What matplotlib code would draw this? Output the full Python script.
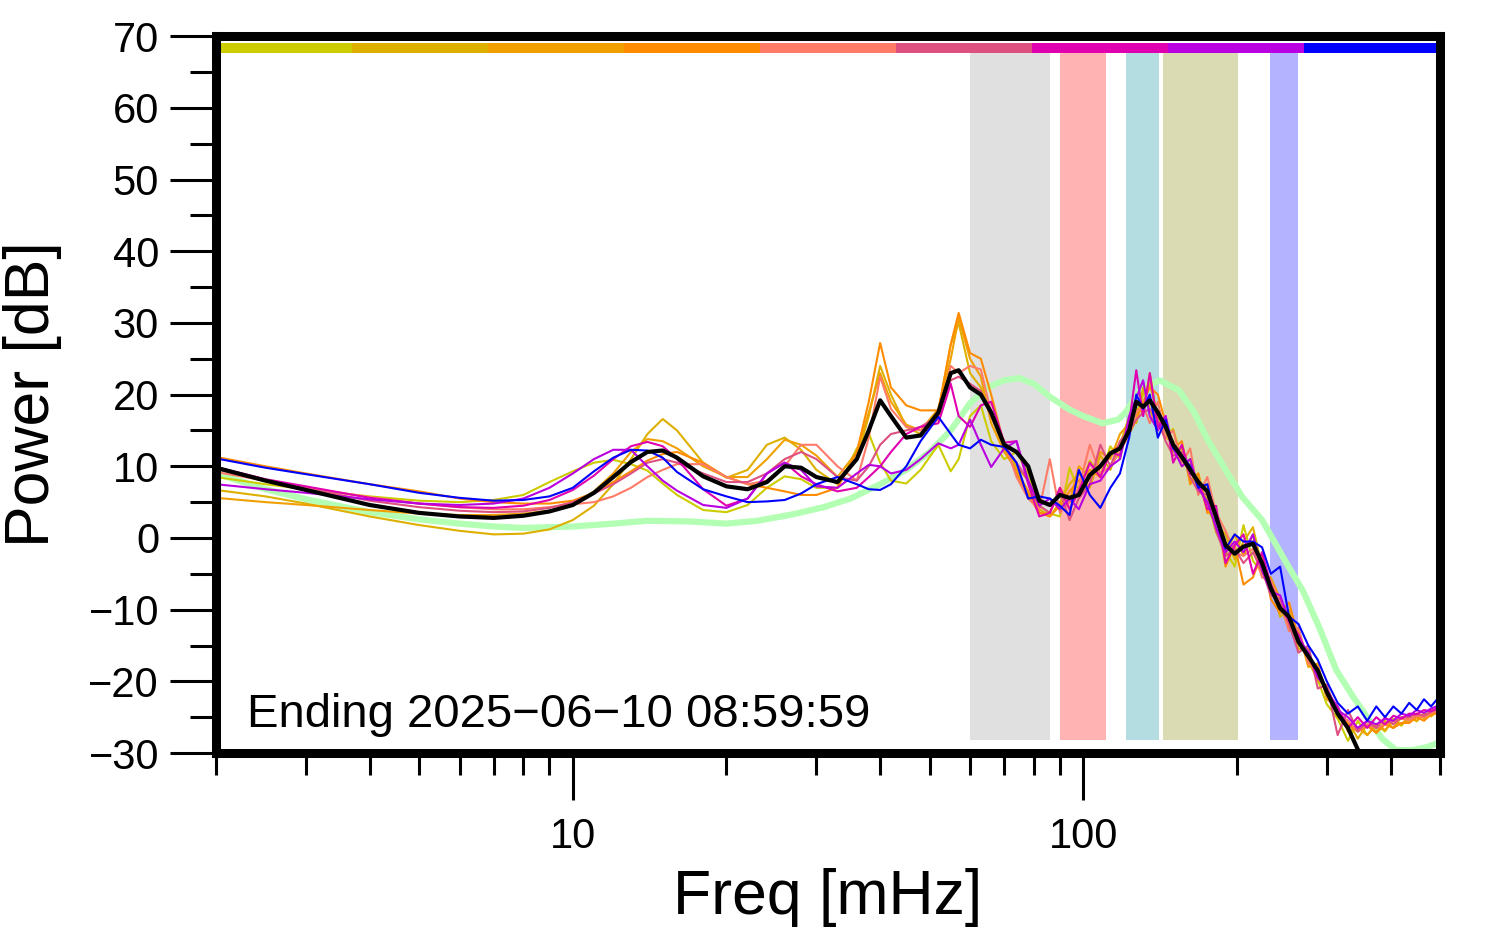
import matplotlib
matplotlib.use("Agg")
import matplotlib.pyplot as plt
from matplotlib.ticker import LogLocator, NullFormatter, FixedLocator, MultipleLocator

plt.rcParams['font.family'] = ['Liberation Sans', 'DejaVu Sans']

# shared frequency grid for the station spectra [mHz]
FREQ = [2, 2.5, 3, 4, 5, 6, 7, 8, 9, 10,
        11, 12, 13, 14, 15, 16, 18, 20, 22, 24,
        26, 28, 30, 33, 36, 38, 40, 42, 45, 48,
        52, 55, 57, 60, 63, 66, 70, 74, 78, 82,
        86, 90, 94, 98, 103, 108, 113, 118, 123, 127,
        131, 135, 140, 145, 150, 156, 162, 168, 175, 182,
        190, 198, 206, 215, 224, 233, 243, 253, 264, 276,
        288, 300, 315, 330, 345, 360, 375, 390, 405, 420,
        435, 450, 465, 480, 500]

OLIVE = [8.5, 7.5, 6.8, 5.8, 5.2, 5.0, 5.3, 6.0, 7.8, 9.3,
         10.5, 10.9, 10.3, 9.4, 7.6, 6.0, 3.9, 3.6, 4.6, 7.0,
         8.6, 8.2, 7.0, 7.0, 12.5, 14.6, 10.5, 8.0, 7.6, 9.5,
         13.0, 9.3, 11.0, 17.0, 18.5, 13.5, 11.0, 12.0, 9.0, 4.5,
         3.4, 3.0, 9.8, 6.5, 10.8, 8.6, 12.8, 11.0, 16.5, 17.2,
         20.0, 21.5, 17.0, 14.2, 15.2, 11.0, 10.2, 6.8, 5.5, 0.8,
         -1.8, -4.0, 1.8, -3.2, -4.8, -6.2, -9.3, -12.8, -14.0, -17.2,
         -19.8, -23.2, -25.2, -28.3, -25.5, -27.5, -26.0, -27.0, -25.2, -26.2,
         -24.8, -25.6, -24.4, -24.9, -23.8]

GOLD = [6.7, 5.8, 4.8, 3.0, 1.8, 1.0, 0.5, 0.6, 1.2, 2.5,
        4.5, 7.5, 11.0, 14.5, 16.6, 15.0, 10.5, 8.4, 9.5, 13.0,
        14.0, 12.3, 9.5, 7.5, 11.0, 17.0, 24.0, 20.0, 15.5, 14.5,
        17.5, 27.0, 30.0, 23.0, 21.0, 17.0, 12.5, 10.0, 8.0, 4.0,
        3.0, 5.0, 7.5, 9.0, 7.0, 11.5, 9.5, 13.0, 17.0, 16.0,
        21.0, 18.0, 15.0, 16.5, 12.0, 12.5, 8.0, 9.0, 4.0, 2.0,
        0.5, -3.0, -0.5, 1.5, -4.0, -6.0, -11.0, -10.0, -15.5, -15.5,
        -20.0, -20.5, -25.0, -25.5, -28.0, -26.0, -27.0, -25.5, -26.5, -25.0,
        -25.8, -24.5, -25.2, -24.0, -24.3]

AMBER = [5.6, 5.0, 4.6, 3.9, 3.4, 3.2, 3.2, 3.4, 3.8, 4.6,
         6.5, 9.0, 12.0, 13.8, 13.5, 12.5, 10.0, 8.5, 8.5, 11.0,
         13.7, 13.0, 11.5, 8.5, 12.0, 17.5, 23.0, 19.0, 15.8, 15.0,
         18.0, 25.0, 30.7, 25.0, 22.5, 16.0, 12.0, 9.5, 6.5, 3.5,
         3.5, 7.0, 5.0, 10.0, 8.5, 12.0, 11.0, 14.5, 16.0, 18.0,
         17.5, 23.0, 16.0, 14.0, 13.5, 10.0, 11.0, 6.5, 7.5, 2.5,
         -2.0, 0.5, -2.5, 0.5, -5.0, -5.5, -8.5, -12.5, -13.0, -18.0,
         -17.5, -22.5, -23.5, -27.0, -26.5, -27.5, -26.0, -26.8, -25.5, -26.0,
         -25.0, -25.5, -24.5, -24.8, -24.0]

ORANGE = [11.3, 10.0, 9.0, 7.5, 6.5, 5.5, 5.0, 4.8, 4.8, 5.2,
          6.3, 7.8, 9.3, 10.8, 11.7, 12.0, 10.5, 8.5, 7.5, 7.0,
          6.5, 6.0, 6.0, 7.0, 12.0, 19.0, 27.2, 21.0, 18.5, 17.8,
          17.8, 27.0, 31.4, 25.8, 25.0, 20.0, 13.0, 9.0, 6.0, 3.5,
          3.0, 4.5, 6.5, 8.0, 9.5, 8.5, 12.0, 13.0, 14.5, 16.5,
          19.0, 21.0, 20.0, 16.0, 12.5, 13.5, 7.5, 9.0, 3.5, 4.0,
          -4.0, -1.0, -6.5, -5.5, -2.0, -8.5, -10.5, -9.0, -14.0, -17.0,
          -19.5, -21.0, -24.0, -26.0, -27.0, -26.2, -27.2, -26.0, -26.5, -25.8,
          -25.8, -25.0, -25.5, -24.6, -24.4]

SALMON = [9.2, 8.0, 7.0, 5.7, 4.8, 4.3, 4.0, 4.0, 4.3, 4.7,
          5.0, 5.8, 7.0, 8.5, 9.5, 10.3, 10.3, 8.5, 7.5, 8.0,
          10.0, 13.0, 13.0, 10.0, 8.0, 14.0, 22.5, 18.0, 15.5, 15.0,
          16.5, 24.0, 23.0, 24.0, 23.5, 17.5, 13.5, 8.5, 5.5, 4.0,
          11.0, 3.5, 5.0, 7.0, 13.0, 9.0, 10.0, 12.0, 14.5, 17.5,
          18.5, 16.0, 19.0, 14.0, 15.0, 10.5, 12.5, 6.0, 8.5, 3.5,
          1.0, -2.0, -2.5, -1.5, -5.5, -6.0, -9.0, -13.0, -12.5, -17.5,
          -18.0, -22.0, -24.5, -25.5, -27.0, -26.0, -26.5, -26.0, -25.5, -25.2,
          -25.4, -24.8, -25.0, -24.4, -24.0]

ROSE = [9.6, 8.0, 6.9, 5.2, 4.3, 3.8, 3.6, 3.7, 4.2, 5.0,
        6.2, 7.5, 9.0, 10.5, 11.0, 10.5, 9.0, 7.8, 7.8, 9.0,
        11.0, 12.0, 11.0, 8.5, 8.0, 10.0, 13.0, 14.5, 15.0, 15.5,
        17.0, 22.0, 22.5, 21.5, 20.5, 17.0, 13.0, 10.5, 8.0, 4.5,
        3.5, 6.5, 2.5, 5.5, 7.5, 13.0, 10.0, 13.5, 15.0, 16.5,
        17.5, 18.0, 16.5, 13.5, 11.5, 12.0, 8.5, 6.5, 6.0, 1.0,
        -2.5, -1.5, -3.5, -2.0, -4.5, -8.0, -8.5, -12.0, -16.0, -15.0,
        -21.0, -20.5, -27.5, -24.0, -27.0, -25.5, -26.5, -25.0, -26.0, -25.0,
        -25.0, -24.5, -24.8, -24.2, -23.8]

MAGENTA = [9.9, 8.2, 7.2, 5.6, 4.8, 4.3, 4.2, 4.5, 5.3, 6.7,
           8.7, 11.0, 12.8, 13.4, 12.8, 11.0, 6.8, 4.5, 5.5, 9.0,
           10.5, 8.6, 7.5, 6.5, 7.0, 8.5, 10.0, 12.0, 14.5, 15.5,
           16.0, 21.5, 17.0, 15.5, 18.5, 19.0, 13.3, 13.5, 7.5, 3.0,
           3.5, 7.0, 4.0, 6.5, 10.5, 8.5, 12.0, 11.5, 16.0, 23.4,
           17.0, 23.0, 15.5, 17.0, 10.5, 13.0, 9.0, 8.0, 4.0, 4.5,
           -3.5, -1.0, 0.5, -5.0, -2.0, -6.5, -9.5, -11.5, -13.5, -16.5,
           -19.0, -21.5, -23.5, -26.5, -25.0, -26.5, -25.0, -26.0, -24.8, -25.2,
           -24.5, -24.6, -24.0, -24.2, -23.5]

PURPLE = [7.5, 6.8, 6.3, 5.4, 4.8, 4.6, 4.8, 5.5, 7.0, 9.0,
          11.0, 12.3, 12.3, 10.0, 8.0, 6.6, 4.6, 4.2, 5.5, 9.0,
          10.5, 9.5, 7.2, 7.0, 9.0, 10.2, 10.0, 9.0, 9.5, 11.0,
          13.2, 12.5, 13.0, 16.5, 13.0, 9.9, 12.5, 13.5, 8.0, 4.5,
          5.5, 4.0, 5.5, 4.0, 7.5, 8.0, 10.0, 11.0, 17.0, 19.5,
          22.0, 17.0, 15.0, 17.0, 12.5, 10.0, 11.0, 7.0, 5.0, 1.5,
          -2.0, -0.5, -2.0, 0.5, -4.5, -7.5, -8.0, -11.5, -14.0, -16.0,
          -19.5, -21.0, -24.0, -25.0, -26.5, -25.5, -26.0, -25.2, -25.5, -24.5,
          -24.8, -24.0, -24.4, -23.8, -23.3]

BLUE = [11.1, 9.8, 8.9, 7.5, 6.3, 5.6, 5.2, 5.3, 5.8, 7.0,
        9.3, 11.2, 12.3, 12.2, 11.2, 9.2, 6.8, 5.8, 5.0, 5.1,
        5.3, 6.2, 7.5, 8.5, 7.5, 6.8, 6.7, 7.5, 10.0, 13.5,
        16.9, 14.5, 13.0, 12.5, 13.7, 13.0, 12.7, 10.5, 5.5, 5.8,
        5.5, 4.5, 3.2, 9.5, 6.0, 4.2, 7.0, 9.0, 14.0, 20.0,
        18.0, 20.0, 14.0, 16.5, 12.5, 11.5, 10.0, 7.0, 7.5, 2.5,
        -1.5, 0.5, -0.5, -0.5, -1.3, -5.0, -4.0, -11.0, -12.0, -15.0,
        -17.0, -20.0, -23.0, -24.5, -23.5, -25.5, -23.5, -25.0, -23.5, -24.5,
        -23.0, -24.0, -22.5, -23.5, -22.0]

LATEST = [9.8, 8.0, 6.7, 4.6, 3.5, 3.0, 2.8, 3.1, 3.7, 4.6,
          6.3, 8.5, 10.6, 12.0, 12.2, 11.2, 8.6, 7.2, 6.8, 7.8,
          10.0, 9.8, 8.5, 7.8, 11.0, 15.0, 19.2, 17.0, 14.0, 14.3,
          17.5, 23.0, 23.4, 21.0, 20.0, 17.5, 13.0, 12.0, 10.0, 5.2,
          4.6, 6.0, 5.6, 6.0, 8.8, 10.0, 11.8, 12.5, 15.0, 19.0,
          18.3, 19.2, 17.5, 15.5, 13.0, 11.3, 9.5, 7.8, 6.5, 3.0,
          -1.0, -2.2, -1.2, -0.8, -3.5, -7.0, -9.8, -11.0, -14.5, -16.5,
          -18.5, -21.5, -24.5, -26.5, -29.5, -31.5, -33.0, -34.0, -35.0, -36.0,
          -36.0, -37.0, -37.0, -38.0, -38.0]

# reference (model) curve
REF_FREQ = [2, 2.5, 3, 4, 5, 6, 7, 8, 10, 12, 14, 17, 20, 23, 27, 31, 35, 40, 45, 50,
            55, 60, 65, 70, 75, 80, 86, 94, 100, 109, 117, 121, 129, 141, 154, 165, 174,
            190, 205, 224, 250, 269, 290, 313, 338, 360, 385, 410, 440, 470, 500]
REF_DB = [9.0, 6.8, 5.4, 3.6, 2.6, 2.0, 1.6, 1.4, 1.6, 2.0, 2.4, 2.3, 2.0, 2.4, 3.3, 4.3, 5.5, 7.5, 9.5, 12.0,
          15.0, 18.8, 21.0, 22.0, 22.3, 21.5, 19.7, 17.9, 17.0, 16.0, 16.5, 17.5, 20.6, 22.0, 20.6, 17.5, 14.1,
          9.5, 5.7, 2.5, -3.5, -7.3, -12.5, -18.4, -22.2, -25.0, -28.0, -29.6, -29.6, -29.2, -28.5]

SERIES = [OLIVE, GOLD, AMBER, ORANGE, SALMON, ROSE, MAGENTA, PURPLE, BLUE]
COLORS = ['#cccc00', '#ddb000', '#f0a000', '#ff8c00', '#ff7b68',
          '#dd5080', '#e000b0', '#b800e0', '#0000ff']

# shaded frequency bands [mHz]
BAND_LO = [60, 90, 121, 143, 232]
BAND_HI = [86, 111, 141, 201, 263]
BAND_COLORS = ['#e0e0e0', '#ffb3b3', '#b3dde0', '#dbdbb3', '#b3b3ff']

fig = plt.figure(figsize=(14.94, 9.52), dpi=100)
ax = fig.add_axes([0.1446, 0.209, 0.8193, 0.753])

for lo, hi, c in zip(BAND_LO, BAND_HI, BAND_COLORS):
    ax.axvspan(lo, hi, ymin=0.018, ymax=0.976, color=c, lw=0, zorder=1)

# colour key along the top
for i, c in enumerate(COLORS):
    ax.axhspan(67.6, 69.0, xmin=i / len(COLORS), xmax=(i + 1) / len(COLORS),
               color=c, lw=0, zorder=2)

ax.plot(REF_FREQ, REF_DB, color='#b3ffb3', lw=4.5, zorder=3, solid_capstyle='butt')
for vals, c in zip(SERIES, COLORS):
    ax.plot(FREQ, vals, color=c, lw=1.5, zorder=4)
ax.plot(FREQ, LATEST, color='black', lw=3, zorder=5)

ax.set_xscale('log')
ax.set_xlim(2, 500)
ax.set_ylim(-30, 70)

ax.xaxis.set_major_locator(FixedLocator([10, 100]))
ax.xaxis.set_major_formatter(plt.FuncFormatter(lambda v, p: f'{v:g}'))
ax.xaxis.set_minor_locator(LogLocator(base=10, subs=range(2, 10)))
ax.xaxis.set_minor_formatter(NullFormatter())
ax.yaxis.set_major_locator(MultipleLocator(10))
ax.yaxis.set_minor_locator(MultipleLocator(5))

for s in ax.spines.values():
    s.set_linewidth(6.5)
    s.set_zorder(10)

ax.tick_params(axis='y', which='major', length=33, width=2.2, labelsize=30, pad=8)
ax.tick_params(axis='y', which='minor', length=19, width=2.2)
ax.tick_params(axis='x', which='major', length=34, width=2.2, labelsize=30, pad=12)
ax.tick_params(axis='x', which='minor', length=16, width=2.2)

ax.set_xlabel('Freq [mHz]', fontsize=45)
ax.set_ylabel('Power [dB]', fontsize=45)
ax.xaxis.set_label_coords(0.5, -0.16)
ax.yaxis.set_label_coords(-0.126, 0.5)

ax.text(0.025, 0.036, 'Ending 2025\u221206\u221210 08:59:59', transform=ax.transAxes,
        fontsize=34, va='baseline', ha='left', zorder=6)

fig.savefig('out.png', dpi=100)
